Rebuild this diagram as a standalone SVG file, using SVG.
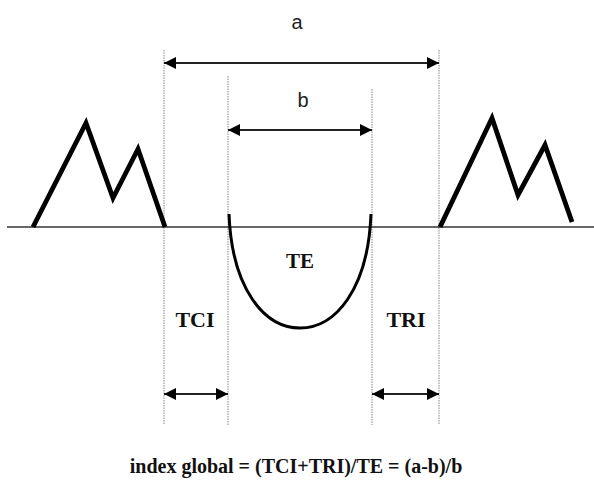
<svg xmlns="http://www.w3.org/2000/svg" width="594" height="481" viewBox="0 0 594 481">
<style>
.dot{stroke:#888;stroke-width:1;stroke-dasharray:1.5 1;fill:none}
.base{stroke:#333;stroke-width:1.5;fill:none}
.thick{stroke:#000;stroke-width:4.8;fill:none;stroke-linejoin:miter}
.curve{stroke:#000;stroke-width:3;fill:none}
.arr{stroke:#222;stroke-width:2;fill:none;marker-start:url(#ah);marker-end:url(#ah)}
.sans{font-family:"Liberation Sans",Arial,sans-serif;font-size:20px;fill:#222}
.ser{font-family:"Liberation Serif","Times New Roman",serif;font-weight:bold;fill:#111}
</style>
<defs>
<marker id="ah" viewBox="0 0 10 10" refX="10" refY="5" markerWidth="15" markerHeight="12" markerUnits="userSpaceOnUse" orient="auto-start-reverse">
<path d="M0,0 L10,5 L0,10 z" fill="#000"/>
</marker>
</defs>
<rect width="594" height="481" fill="#fff"/>
<g id="guides">
<line class="dot" x1="164" y1="50" x2="164" y2="425"/>
<line class="dot" x1="228" y1="76" x2="228" y2="425"/>
<line class="dot" x1="372" y1="89" x2="372" y2="425"/>
<line class="dot" x1="439" y1="50" x2="439" y2="425"/>
</g>
<g id="baseline">
<line class="base" x1="7" y1="227" x2="594" y2="227"/>
</g>
<g id="left-peaks">
<polyline class="thick" points="33,227 86,123 113,198 138,149 165,227"/>
</g>
<g id="right-peaks">
<polyline class="thick" points="440,227 492,118 518,195 545,145 572,222"/>
</g>
<g id="trough">
<path class="curve" d="M229,214 C232,290 265,328 300,328 C335,328 368,290 371,214"/>
</g>
<g id="connectors">
<line class="arr" x1="164" y1="63" x2="439" y2="63"/>
<line class="arr" x1="228" y1="130" x2="372" y2="130"/>
<line class="arr" x1="164" y1="394" x2="228" y2="394"/>
<line class="arr" x1="372" y1="394" x2="439" y2="394"/>
</g>
<g id="labels">
<text class="sans" x="297" y="29" text-anchor="middle">a</text>
<text class="sans" x="303" y="107" text-anchor="middle">b</text>
<text class="ser" x="300" y="268" font-size="21" text-anchor="middle">TE</text>
<text class="ser" x="195" y="327" font-size="22" text-anchor="middle">TCI</text>
<text class="ser" x="406" y="327" font-size="22" text-anchor="middle">TRI</text>
<text class="ser" x="296" y="473" font-size="20" text-anchor="middle">index global = (TCI+TRI)/TE = (a-b)/b</text>
</g>
</svg>
